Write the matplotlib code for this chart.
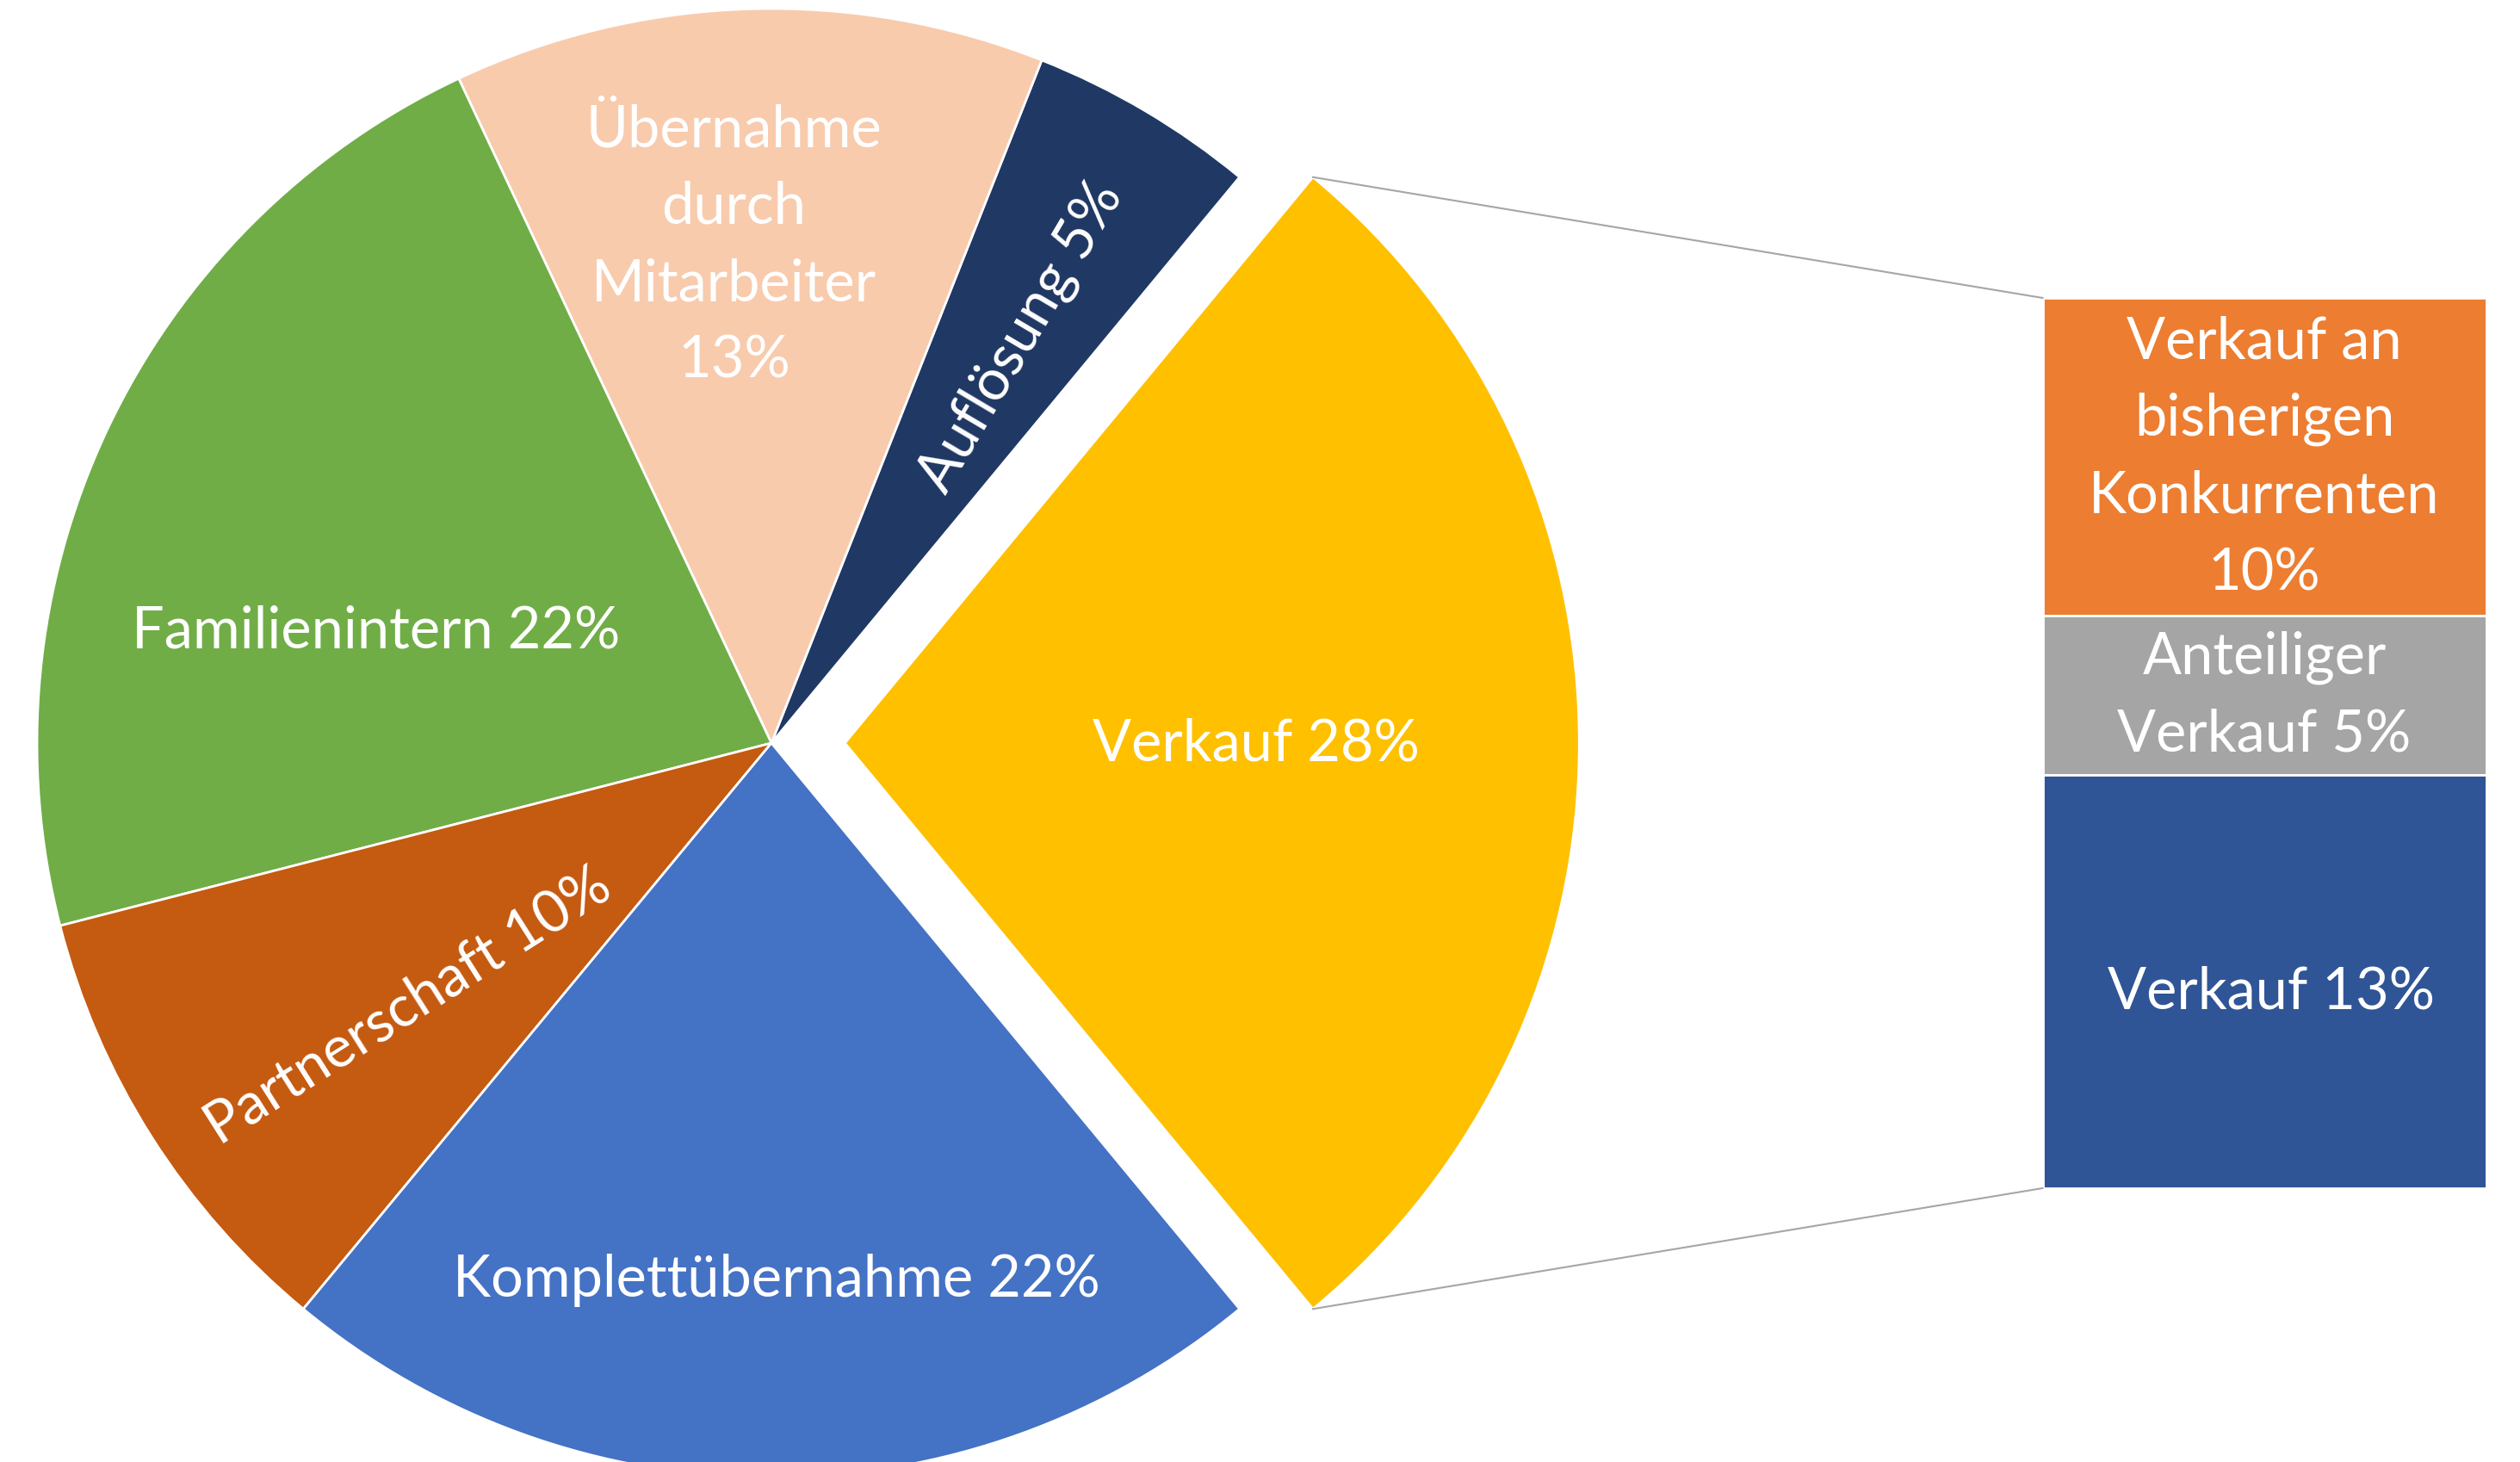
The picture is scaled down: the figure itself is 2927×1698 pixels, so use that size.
import numpy as np
import matplotlib
matplotlib.use("Agg")
import matplotlib.pyplot as plt

# Pie data (percent)
pie_labels = ["Verkauf", "Auflösung", "Übernahme\ndurch\nMitarbeiter", "Familienintern",
              "Partnerschaft", "Komplettübernahme"]
pie_values = [28, 5, 13, 22, 10, 22]
pie_colors = ["#FFC000", "#203864", "#F8CBAD", "#70AD47", "#C55A11", "#4472C4"]

# Breakdown of "Verkauf" (bar of pie)
bar_labels = ["Verkauf an\nbisherigen\nKonkurrenten", "Anteiliger\nVerkauf", "Verkauf"]
bar_values = [10, 5, 13]
bar_colors = ["#ED7D31", "#A5A5A5", "#2F5597"]

W, H = 2927, 1699
fig = plt.figure(figsize=(W / 100, H / 100), dpi=100)
ax = fig.add_axes([0, 0, 1, 1])

# Layout (pixels)
cx, cy, R = 896, H - 864, 853
explode = [0.1 * R, 0, 0, 0, 0, 0]   # pie() takes explode in data units
start = -pie_values[0] / 100 * 180

wedges, _ = ax.pie(pie_values, colors=pie_colors, startangle=start, radius=R,
                   center=(cx, cy), explode=explode, counterclock=True,
                   wedgeprops=dict(edgecolor="white", linewidth=2))
ax.set_xlim(0, W)
ax.set_ylim(0, H)
ax.set_aspect("equal")
ax.axis("off")

font = "Lato"
fs = 48
ls = 1.55

# label placement: radial fraction, angle offset, rotate along radius?
lab_r = [0.56, 0.65, 0.68, 0.56, 0.61, 0.73]
lab_da = [0, -0.9, 2.5, 9.3, 3.4, 0.5]
lab_rot = [False, True, False, False, True, False]
for w, lab, val, r, da, rot in zip(wedges, pie_labels, pie_values, lab_r, lab_da, lab_rot):
    mid = (w.theta1 + w.theta2) / 2
    a = np.deg2rad(mid + da)
    x0, y0 = w.center
    tx, ty = x0 + r * R * np.cos(a), y0 + r * R * np.sin(a)
    angle = 0
    if rot:
        angle = mid if -90 <= mid <= 90 else mid - 180
    ax.text(tx, ty, f"{lab} {val}%" if "\n" not in lab else f"{lab}\n{val}%",
            ha="center", va="center", color="white", fontsize=fs, family=font,
            rotation=angle, rotation_mode="anchor", linespacing=ls)

# Bar of the exploded slice
bar_x, bar_w = 2630, 515
bar_top, bar_h = H - 347, 1034
scale = bar_h / sum(bar_values)
tops = bar_top - np.concatenate([[0], np.cumsum(bar_values)[:-1]]) * scale
heights = np.array(bar_values) * scale
ax.bar([bar_x] * 3, -heights, bottom=tops, width=bar_w, color=bar_colors,
       edgecolor="white", linewidth=2, align="center")
for i, (t, h, lab, val) in enumerate(zip(tops, heights, bar_labels, bar_values)):
    txt = f"{lab}\n{val}%" if i == 0 else f"{lab} {val}%"
    dy = -12 if i == 2 else 0
    ax.text(bar_x + (8 if i == 2 else 0), t - h / 2 + dy, txt, ha="center", va="center",
            color="white", fontsize=fs, family=font, linespacing=ls)

# Connector lines from the exploded wedge to the bar
w0 = wedges[0]
x0, y0 = w0.center
left = bar_x - bar_w / 2
for th, by in [(w0.theta2, bar_top), (w0.theta1, bar_top - bar_h)]:
    a = np.deg2rad(th)
    ax.plot([x0 + R * np.cos(a), left], [y0 + R * np.sin(a), by],
            color="#A6A6A6", linewidth=1.5)

fig.savefig("out.png", dpi=100)
